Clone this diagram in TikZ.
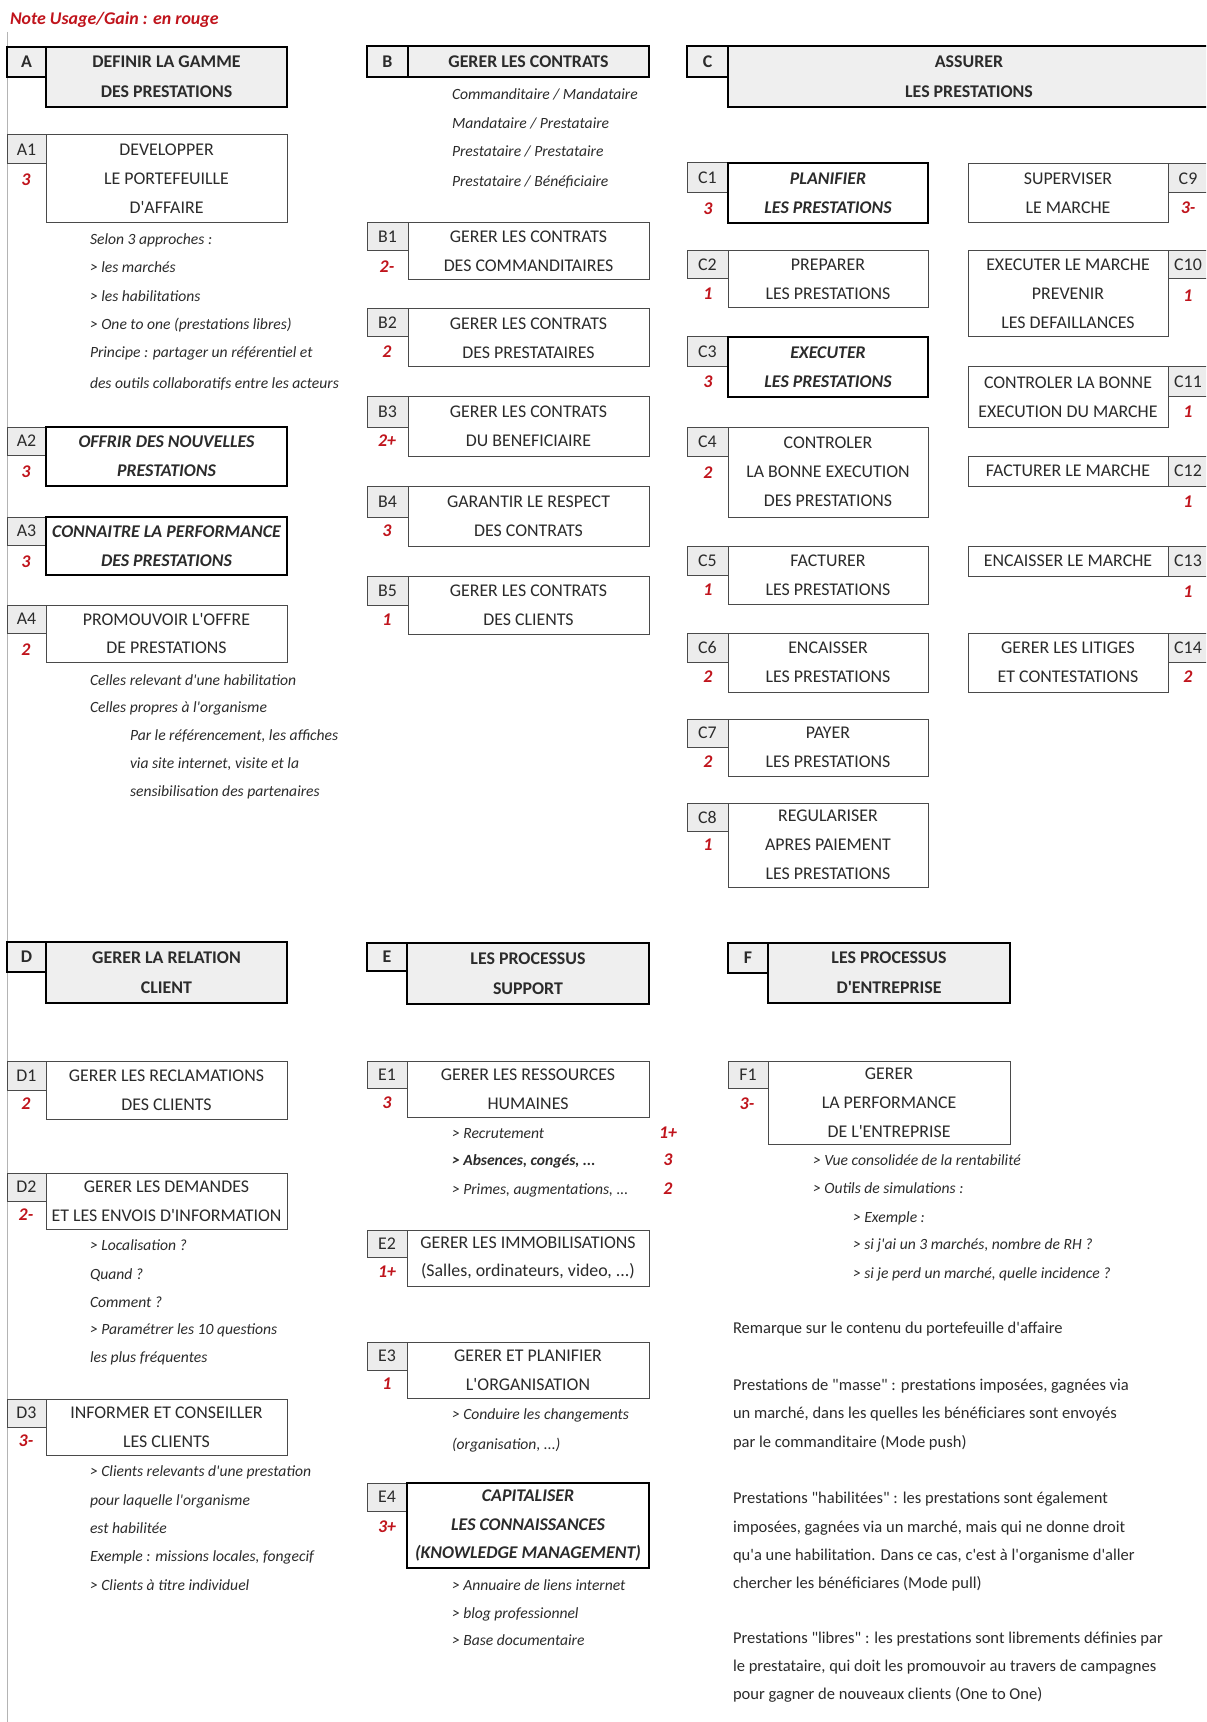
\documentclass[tikz,border=0pt]{standalone}
\usepackage{fontspec}
\setmainfont{Carlito}[Ligatures=TeXOff]
\definecolor{ink}{HTML}{2B2B2B}
\definecolor{boxline}{HTML}{4A4A4A}
\definecolor{headfill}{HTML}{EFEFEF}
\definecolor{labfill}{HTML}{ECECEC}
\definecolor{gain}{HTML}{C0141C}
\definecolor{rule}{HTML}{B4B4B4}
% a box given by its corners (x1,y1) (x2,y2), in pixel units
\newcommand\pcell[7][]{%
  \pgfmathsetmacro\pcellw{(#5-#3)*0.75}%
  \pgfmathsetmacro\pcellh{(#6-#4)*0.75}%
  \node[box,#1,anchor=north west,minimum width=\pcellw pt,minimum height=\pcellh pt] (#2) at (#3,#4) {#7};}
\begin{document}
\begin{tikzpicture}[x=0.75pt,y=-0.75pt,
  every node/.style={inner sep=0pt,outer sep=0pt},
  box/.style={draw=boxline,line width=0.75pt,fill=white,align=center,text=ink,
    font=\fontsize{13.4}{21.6}\selectfont},
  strong/.style={draw=black,line width=1.5pt,font=\fontsize{13.4}{21.6}\selectfont\bfseries\itshape},
  head/.style={draw=black,line width=1.5pt,fill=headfill,font=\fontsize{13.4}{22.5}\selectfont\bfseries},
  lab/.style={fill=labfill},
  note/.style={anchor=base west,text=ink,font=\fontsize{11.7}{14}\selectfont\itshape},
  num/.style={text=gain,font=\fontsize{13.4}{16}\selectfont\bfseries\itshape},
  remark/.style={anchor=base west,text=ink,font=\fontsize{12.4}{15}\selectfont}]
\useasboundingbox (0,0) rectangle (1206,1722);
\clip (0,0) rectangle (1206,1722);
\fill[white] (0,0) rectangle (1206,1722);

% legend and left margin rule
\node[anchor=base west,text=gain,font=\fontsize{13.4}{16}\selectfont\bfseries\itshape] (legend) at (10,25) {Note Usage/Gain : en rouge};
\draw[rule,line width=0.75pt] (7,32) -- (7,1722);

% ---------------- A ----------------
\pcell[head]{Al}{7}{47}{46}{77}{A}
\pcell[head]{At}{46}{47}{287}{107}{DEFINIR LA GAMME\\DES PRESTATIONS}

\pcell[lab]{A1l}{7}{135}{46}{164}{A1}
\pcell{A1b}{46}{135}{287}{223}{DEVELOPPER\\LE PORTEFEUILLE\\D'AFFAIRE}
\node[num] (A1g) at (26,180) {3};
\node[note] (A1n1) at (90,245) {Selon 3 approches :};
\node[note] (A1n2) at (90,273) {> les marchés};
\node[note] (A1n3) at (90,302) {> les habilitations};
\node[note] (A1n4) at (90,330) {> One to one (prestations libres)};
\node[note] (A1n5) at (90,358) {Principe : partager un référentiel et};
\node[note] (A1n6) at (90,388) {des outils collaboratifs entre les acteurs};

\pcell[lab]{A2l}{7}{427}{46}{455}{A2}
\pcell[strong]{A2b}{46}{427}{287}{486}{OFFRIR DES NOUVELLES\\PRESTATIONS}
\node[num] (A2g) at (26,472) {3};

\pcell[lab]{A3l}{7}{517}{46}{545}{A3}
\pcell[strong]{A3b}{46}{517}{287}{575}{CONNAITRE LA PERFORMANCE\\DES PRESTATIONS}
\node[num] (A3g) at (26,562) {3};

\pcell[lab]{A4l}{7}{605}{46}{633}{A4}
\pcell{A4b}{46}{605}{287}{662}{PROMOUVOIR L'OFFRE\\DE PRESTATIONS}
\node[num] (A4g) at (26,650) {2};
\node[note] (A4n1) at (90,685) {Celles relevant d'une habilitation};
\node[note] (A4n2) at (90,712) {Celles propres à l'organisme};
\node[note] (A4n3) at (130,740) {Par le référencement, les affiches};
\node[note] (A4n4) at (130,768) {via site internet, visite et la};
\node[note] (A4n5) at (130,796) {sensibilisation des partenaires};

% ---------------- B ----------------
\pcell[head]{Bl}{367}{46}{408}{77}{B}
\pcell[head]{Bt}{408}{46}{649}{77}{GERER LES CONTRATS}
\node[note] (Bn1) at (452,100) {Commanditaire / Mandataire};
\node[note] (Bn2) at (452,129) {Mandataire / Prestataire};
\node[note] (Bn3) at (452,157) {Prestataire / Prestataire};
\node[note] (Bn4) at (452,187) {Prestataire / Bénéficiaire};

\pcell[lab]{B1l}{367}{223}{408}{251}{B1}
\pcell{B1b}{408}{223}{649}{280}{GERER LES CONTRATS\\DES COMMANDITAIRES}
\node[num] (B1g) at (387,267) {2-};

\pcell[lab]{B2l}{367}{309}{408}{337}{B2}
\pcell{B2b}{408}{309}{649}{367}{GERER LES CONTRATS\\DES PRESTATAIRES}
\node[num] (B2g) at (387,352) {2};

\pcell[lab]{B3l}{367}{397}{408}{427}{B3}
\pcell{B3b}{408}{397}{649}{456}{GERER LES CONTRATS\\DU BENEFICIAIRE}
\node[num] (B3g) at (387,441) {2+};

\pcell[lab]{B4l}{367}{486}{408}{517}{B4}
\pcell{B4b}{408}{486}{649}{546}{GARANTIR LE RESPECT\\DES CONTRATS}
\node[num] (B4g) at (387,531) {3};

\pcell[lab]{B5l}{367}{576}{408}{605}{B5}
\pcell{B5b}{408}{576}{649}{634}{GERER LES CONTRATS\\DES CLIENTS}
\node[num] (B5g) at (387,620) {1};

% ---------------- C ----------------
\pcell[head]{Cl}{687}{46}{728}{77}{C}
\pcell[head]{Ct}{728}{46}{1210}{107}{ASSURER\\LES PRESTATIONS}

\pcell[lab]{C1l}{687}{163}{728}{193}{C1}
\pcell[strong]{C1b}{728}{163}{928}{223}{PLANIFIER\\LES PRESTATIONS}
\node[num] (C1g) at (708,209) {3};

\pcell[lab]{C2l}{687}{251}{728}{279}{C2}
\pcell{C2b}{728}{251}{928}{308}{PREPARER\\LES PRESTATIONS}
\node[num] (C2g) at (708,294) {1};

\pcell[lab]{C3l}{687}{337}{728}{367}{C3}
\pcell[strong]{C3b}{728}{337}{928}{397}{EXECUTER\\LES PRESTATIONS}
\node[num] (C3g) at (708,382) {3};

\pcell[lab]{C4l}{687}{427}{728}{456}{C4}
\pcell{C4b}{728}{427}{928}{517}{CONTROLER\\LA BONNE EXECUTION\\DES PRESTATIONS}
\node[num] (C4g) at (708,473) {2};

\pcell[lab]{C5l}{687}{546}{728}{575}{C5}
\pcell{C5b}{728}{546}{928}{604}{FACTURER\\LES PRESTATIONS}
\node[num] (C5g) at (708,590) {1};

\pcell[lab]{C6l}{687}{633}{728}{662}{C6}
\pcell{C6b}{728}{633}{928}{692}{ENCAISSER\\LES PRESTATIONS}
\node[num] (C6g) at (708,677) {2};

\pcell[lab]{C7l}{687}{719}{728}{747}{C7}
\pcell{C7b}{728}{719}{928}{776}{PAYER\\LES PRESTATIONS}
\node[num] (C7g) at (708,762) {2};

\pcell[lab]{C8l}{687}{803}{728}{831}{C8}
\pcell{C8b}{728}{803}{928}{887}{REGULARISER\\APRES PAIEMENT\\LES PRESTATIONS}
\node[num] (C8g) at (708,845) {1};

\pcell[lab]{C9l}{1168}{164}{1208}{193}{C9}
\pcell{C9b}{968}{164}{1168}{223}{SUPERVISER\\LE MARCHE}
\node[num] (C9g) at (1188,208) {3-};

\pcell[lab]{C10l}{1168}{251}{1208}{279}{C10}
\pcell{C10b}{968}{251}{1168}{337}{EXECUTER LE MARCHE\\PREVENIR\\LES DEFAILLANCES}
\node[num] (C10g) at (1188,296) {1};

\pcell[lab]{C11l}{1168}{367}{1208}{397}{C11}
\pcell{C11b}{968}{367}{1168}{427}{CONTROLER LA BONNE\\EXECUTION DU MARCHE}
\node[num] (C11g) at (1188,412) {1};

\pcell[lab]{C12l}{1168}{456}{1208}{486}{C12}
\pcell{C12b}{968}{456}{1168}{486}{FACTURER LE MARCHE}
\node[num] (C12g) at (1188,502) {1};

\pcell[lab]{C13l}{1168}{546}{1208}{576}{C13}
\pcell{C13b}{968}{546}{1168}{576}{ENCAISSER LE MARCHE}
\node[num] (C13g) at (1188,592) {1};

\pcell[lab]{C14l}{1168}{633}{1208}{662}{C14}
\pcell{C14b}{968}{633}{1168}{692}{GERER LES LITIGES\\ET CONTESTATIONS}
\node[num] (C14g) at (1188,677) {2};

% ---------------- D ----------------
\pcell[head]{Dl}{7}{942}{46}{972}{D}
\pcell[head]{Dt}{46}{942}{287}{1003}{GERER LA RELATION\\CLIENT}

\pcell[lab]{D1l}{7}{1061}{46}{1090}{D1}
\pcell{D1b}{46}{1061}{287}{1119}{GERER LES RECLAMATIONS\\DES CLIENTS}
\node[num] (D1g) at (26,1104) {2};

\pcell[lab]{D2l}{7}{1173}{46}{1201}{D2}
\pcell{D2b}{46}{1173}{287}{1229}{GERER LES DEMANDES\\ET LES ENVOIS D'INFORMATION}
\node[num] (D2g) at (26,1215) {2-};
\node[note] (D2n1) at (90,1250) {> Localisation ?};
\node[note] (D2n2) at (90,1279) {Quand ?};
\node[note] (D2n3) at (90,1307) {Comment ?};
\node[note] (D2n4) at (90,1334) {> Paramétrer les 10 questions};
\node[note] (D2n5) at (90,1362) {les plus fréquentes};

\pcell[lab]{D3l}{7}{1399}{46}{1427}{D3}
\pcell{D3b}{46}{1399}{287}{1455}{INFORMER ET CONSEILLER\\LES CLIENTS}
\node[num] (D3g) at (26,1441) {3-};
\node[note] (D3n1) at (90,1476) {> Clients relevants d'une prestation};
\node[note] (D3n2) at (90,1505) {pour laquelle l'organisme};
\node[note] (D3n3) at (90,1533) {est habilitée};
\node[note] (D3n4) at (90,1561) {Exemple : missions locales, fongecif};
\node[note] (D3n5) at (90,1590) {> Clients à titre individuel};

% ---------------- E ----------------
\pcell[head]{El}{367}{943}{407}{971}{E}
\pcell[head]{Et}{407}{943}{649}{1004}{LES PROCESSUS\\SUPPORT}

\pcell[lab]{E1l}{367}{1061}{407}{1088}{E1}
\pcell{E1b}{407}{1061}{649}{1117}{GERER LES RESSOURCES\\HUMAINES}
\node[num] (E1g) at (387,1103) {3};
\node[note] (E1n1) at (452,1138) {> Recrutement};
\node[note,font=\fontsize{11.7}{14}\selectfont\bfseries\itshape] (E1n2) at (452,1165) {> Absences, congés, ...};
\node[note] (E1n3) at (452,1194) {> Primes, augmentations, ...};
\node[num] (E1g1) at (668,1133) {1+};
\node[num] (E1g2) at (668,1160) {3};
\node[num] (E1g3) at (668,1189) {2};

\pcell[lab]{E2l}{367}{1230}{407}{1257}{E2}
\pcell{E2b}{407}{1230}{649}{1286}{GERER LES IMMOBILISATIONS\\(Salles, ordinateurs, video, ...)}
\node[num] (E2g) at (387,1272) {1+};

\pcell[lab]{E3l}{367}{1342}{407}{1370}{E3}
\pcell{E3b}{407}{1342}{649}{1398}{GERER ET PLANIFIER\\L'ORGANISATION}
\node[num] (E3g) at (387,1384) {1};
\node[note] (E3n1) at (452,1419) {> Conduire les changements};
\node[note] (E3n2) at (452,1449) {(organisation, ...)};

\pcell[lab]{E4l}{367}{1483}{407}{1511}{E4}
\pcell[strong]{E4b}{407}{1483}{649}{1568}{CAPITALISER\\LES CONNAISSANCES\\(KNOWLEDGE MANAGEMENT)}
\node[num] (E4g) at (387,1527) {3+};
\node[note] (E4n1) at (452,1590) {> Annuaire de liens internet};
\node[note] (E4n2) at (452,1618) {> blog professionnel};
\node[note] (E4n3) at (452,1645) {> Base documentaire};

% ---------------- F ----------------
\pcell[head]{Fl}{728}{943}{768}{973}{F}
\pcell[head]{Ft}{768}{943}{1010}{1003}{LES PROCESSUS\\D'ENTREPRISE}

\pcell[lab]{F1l}{728}{1061}{768}{1088}{F1}
\pcell{F1b}{768}{1061}{1010}{1144}{GERER\\LA PERFORMANCE\\DE L'ENTREPRISE}
\node[num] (F1g) at (747,1104) {3-};
\node[note] (F1n1) at (813,1165) {> Vue consolidée de la rentabilité};
\node[note] (F1n2) at (813,1193) {> Outils de simulations :};
\node[note] (F1n3) at (853,1222) {> Exemple :};
\node[note] (F1n4) at (853,1249) {> si j'ai un 3 marchés, nombre de RH ?};
\node[note] (F1n5) at (853,1278) {> si je perd un marché, quelle incidence ?};

% ---------------- remarks ----------------
\node[remark] (R0) at (733,1333) {Remarque sur le contenu du portefeuille d'affaire};
\node[remark] (R1a) at (733,1390) {Prestations de "masse" : prestations imposées, gagnées via};
\node[remark] (R1b) at (733,1418) {un marché, dans les quelles les bénéficiares sont envoyés};
\node[remark] (R1c) at (733,1447) {par le commanditaire (Mode push)};
\node[remark] (R2a) at (733,1503) {Prestations "habilitées" : les prestations sont également};
\node[remark] (R2b) at (733,1532) {imposées, gagnées via un marché, mais qui ne donne droit};
\node[remark] (R2c) at (733,1560) {qu'a une habilitation. Dans ce cas, c'est à l'organisme d'aller};
\node[remark] (R2d) at (733,1588) {chercher les bénéficiares (Mode pull)};
\node[remark] (R3a) at (733,1643) {Prestations "libres" : les prestations sont librements définies par};
\node[remark] (R3b) at (733,1671) {le prestataire, qui doit les promouvoir au travers de campagnes};
\node[remark] (R3c) at (733,1699) {pour gagner de nouveaux clients (One to One)};
\end{tikzpicture}
\end{document}
